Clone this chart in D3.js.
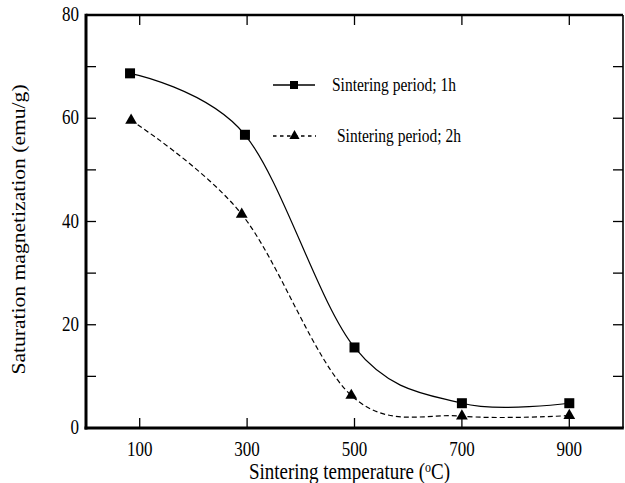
<!DOCTYPE html>
<html>
<head>
<meta charset="utf-8">
<script src="https://cdn.jsdelivr.net/npm/d3@7"></script>
<style>
  body { margin: 0; background: #fff; }
  text { font-family: "Liberation Serif", "Times New Roman", serif; fill: #000; }
</style>
</head>
<body>
<div id="chart"></div>
<script>
var temps_1h = [82, 296, 500, 700, 900];
var period_1h = [68.7, 56.8, 15.6, 4.8, 4.8];
var temps_2h = [84, 290, 494, 700, 900];
var period_2h = [59.6, 41.4, 6.3, 2.3, 2.4];
var x_ticks = [100, 300, 500, 700, 900];
var y_ticks = [0, 20, 40, 60, 80];
var y_minor = [10, 30, 50, 70];
var series_names = ["Sintering period; 1h", "Sintering period; 2h"];

var chart = {
  width: 625,
  height: 483,
  left: 86,
  right: 623,
  top: 15,
  bottom: 428
}

// the original figure is a bit taller than wide, text too
var stretch = 1.2;

var svg = d3.select("#chart").append("svg")
  .attr("width", chart.width)
  .attr("height", chart.height);

var x = d3.scaleLinear().domain([0, 1000]).range([chart.left, chart.right]);
var y = d3.scaleLinear().domain([0, 80]).range([chart.bottom, chart.top]);

var tick_len = 10;

// ticks on all four sides, pointing inward
var all_y = y_ticks.concat(y_minor);

function tick_lines(data, pos) {
  svg.append("g").selectAll("line")
    .data(data).enter().append("line")
    .attr("x1", function(d) { return pos(d)[0]; })
    .attr("y1", function(d) { return pos(d)[1]; })
    .attr("x2", function(d) { return pos(d)[2]; })
    .attr("y2", function(d) { return pos(d)[3]; })
    .style("stroke", "#000").style("stroke-width", 1.3);
}

tick_lines(all_y, function(d) { return [chart.left, y(d), chart.left + tick_len, y(d)]; });
tick_lines(all_y, function(d) { return [chart.right, y(d), chart.right - tick_len, y(d)]; });
tick_lines(x_ticks, function(d) { return [x(d), chart.bottom, x(d), chart.bottom - tick_len]; });
tick_lines(x_ticks, function(d) { return [x(d), chart.top, x(d), chart.top + tick_len]; });

// frame: left and bottom heavier, like the original
svg.append("line")
  .attr("x1", chart.left).attr("x2", chart.right)
  .attr("y1", chart.top).attr("y2", chart.top)
  .style("stroke", "#000").style("stroke-width", 2.5);
svg.append("line")
  .attr("x1", chart.right).attr("x2", chart.right)
  .attr("y1", chart.top).attr("y2", chart.bottom)
  .style("stroke", "#000").style("stroke-width", 1.6);
svg.append("line")
  .attr("x1", chart.left).attr("x2", chart.left)
  .attr("y1", chart.top - 1.2).attr("y2", chart.bottom + 1.5)
  .style("stroke", "#000").style("stroke-width", 3);
svg.append("line")
  .attr("x1", chart.left - 1.5).attr("x2", chart.right + 0.8)
  .attr("y1", chart.bottom).attr("y2", chart.bottom)
  .style("stroke", "#000").style("stroke-width", 3);

// tick labels
svg.append("g").selectAll("text")
  .data(y_ticks).enter().append("text")
  .attr("transform", function(d) {
    return "translate(" + (chart.left - 7) + "," + (y(d) + 6) + ") scale(1," + stretch + ")";
  })
  .style("text-anchor", "end")
  .style("font-size", "17px")
  .text(function(d) { return d; });

svg.append("g").selectAll("text")
  .data(x_ticks).enter().append("text")
  .attr("transform", function(d) {
    return "translate(" + x(d) + "," + (chart.bottom + 28) + ") scale(1," + stretch + ")";
  })
  .style("text-anchor", "middle")
  .style("font-size", "17px")
  .text(function(d) { return d; });

// axis titles
svg.append("text")
  .attr("transform", "translate(25," + ((chart.top + chart.bottom) / 2 + 8) + ") rotate(-90) scale(" + stretch + ",1)")
  .style("text-anchor", "middle")
  .style("font-size", "18px")
  .text("Saturation magnetization (emu/g)");

var xt = svg.append("text")
  .attr("transform", "translate(" + ((chart.left + chart.right) / 2 - 5) + ",479) scale(1," + stretch + ")")
  .style("text-anchor", "middle")
  .style("font-size", "19px");
xt.append("tspan").text("Sintering temperature (");
xt.append("tspan").attr("dy", -6).style("font-size", "12px").text("o");
xt.append("tspan").attr("dy", 6).text("C)");

// series
var line = d3.line()
  .x(function(d) { return x(d[0]); })
  .y(function(d) { return y(d[1]); })
  .curve(d3.curveCatmullRom.alpha(0));

var s1 = d3.zip(temps_1h, period_1h);
var s2 = d3.zip(temps_2h, period_2h);

svg.append("path")
  .datum(s1)
  .attr("d", line)
  .style("fill", "none").style("stroke", "#000").style("stroke-width", 1.2);

svg.append("path")
  .datum(s2)
  .attr("d", line)
  .style("fill", "none").style("stroke", "#000").style("stroke-width", 1.2)
  .style("stroke-dasharray", "5,3");

var sq = 10;
svg.append("g").selectAll("rect")
  .data(s1).enter().append("rect")
  .attr("x", function(d) { return x(d[0]) - sq / 2; })
  .attr("y", function(d) { return y(d[1]) - sq / 2; })
  .attr("width", sq).attr("height", sq)
  .style("fill", "#000");

var tri = d3.symbol().type(d3.symbolTriangle).size(60);
svg.append("g").selectAll("path")
  .data(s2).enter().append("path")
  .attr("d", tri)
  .attr("transform", function(d) { return "translate(" + x(d[0]) + "," + y(d[1]) + ")"; })
  .style("fill", "#000");

// legend
var legend = [
  { name: series_names[0], y: 85, x0: 273, x1: 315, tx: 332, dash: null, mark: "square" },
  { name: series_names[1], y: 136, x0: 273, x1: 316, tx: 337, dash: "3.5,3.5", mark: "triangle" }
];

var lg = svg.append("g").selectAll("g")
  .data(legend).enter().append("g");

lg.append("line")
  .attr("x1", function(d) { return d.x0; })
  .attr("x2", function(d) { return d.x1; })
  .attr("y1", function(d) { return d.y; })
  .attr("y2", function(d) { return d.y; })
  .style("stroke", "#000").style("stroke-width", 1.3)
  .style("stroke-dasharray", function(d) { return d.dash; });

lg.append("path")
  .attr("d", function(d) {
    return d.mark == "square"
      ? d3.symbol().type(d3.symbolSquare).size(64)()
      : d3.symbol().type(d3.symbolTriangle).size(45)();
  })
  .attr("transform", function(d) { return "translate(" + ((d.x0 + d.x1) / 2) + "," + d.y + ")"; })
  .style("fill", "#000");

lg.append("text")
  .attr("transform", function(d) {
    return "translate(" + d.tx + "," + (d.y + 6) + ") scale(1," + stretch + ")";
  })
  .style("font-size", "15.5px")
  .text(function(d) { return d.name; });
</script>
</body>
</html>
